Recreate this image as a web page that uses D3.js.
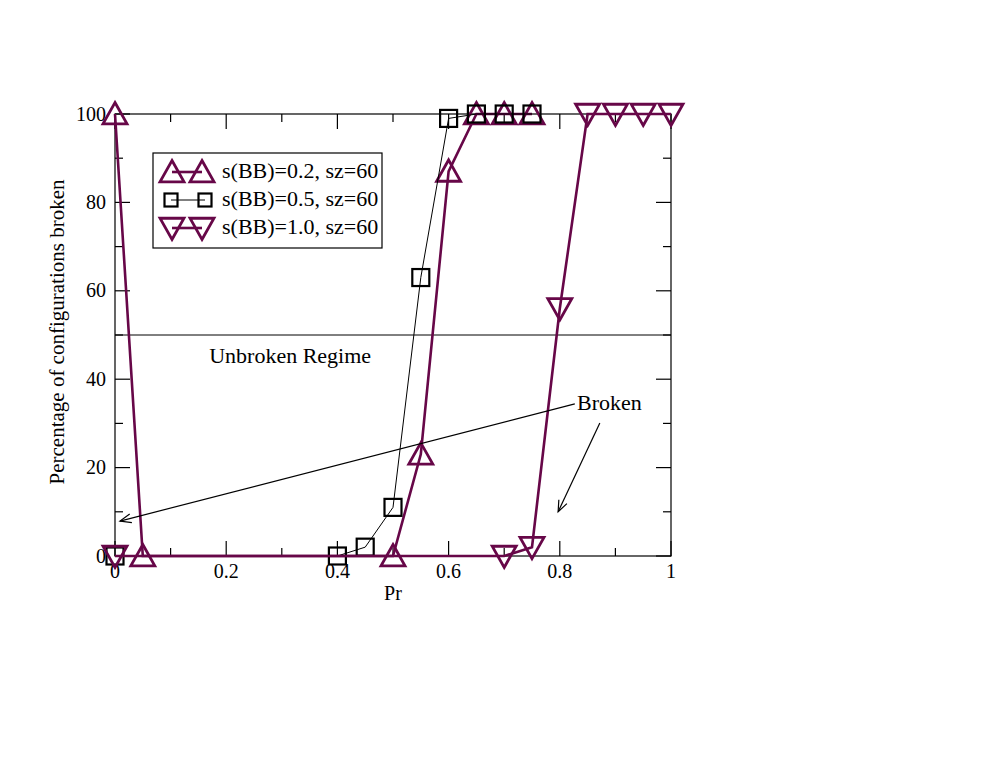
<!DOCTYPE html>
<html><head><meta charset="utf-8">
<script src="https://cdn.jsdelivr.net/npm/d3@7"></script>
<style>body{margin:0;background:#fff}text{font-family:"Liberation Serif","Times New Roman",serif}</style>
</head><body>
<svg id="c" width="987" height="763"></svg>
<script>
const s1x=[0,0.05,0.5,0.55,0.6,0.65,0.7,0.75];
const s1y=[100,0,0,23,87,100,100,100];
const s2x=[0,0.4,0.45,0.5,0.55,0.6,0.65,0.7,0.75];
const s2y=[0,0,2,11,63,99,100,100,100];
const s3x=[0,0.7,0.75,0.8,0.85,0.9,0.95,1.0];
const s3y=[0,0,2,56,100,100,100,100];
const seriesNames=["s(BB)=0.2, sz=60","s(BB)=0.5, sz=60","s(BB)=1.0, sz=60"];
const xTicks=[0,0.2,0.4,0.6,0.8,1];
const yTicks=[0,20,40,60,80,100];
const xLabel="Pr", yLabel="Percentage of configurations broken";

const maroon="rgb(103,7,72)";
const svg=d3.select("#c");
const L=115,R=671,T=114,B=556;
const x=d3.scaleLinear().domain([0,1]).range([L,R]);
const y=d3.scaleLinear().domain([0,100]).range([B,T]);

// frame
svg.append("rect").attr("x",L).attr("y",T).attr("width",R-L).attr("height",B-T)
  .attr("fill","none").attr("stroke","#000").attr("stroke-width",1.2);

// ticks (inward, all sides)
const minX=d3.range(0,1.0001,0.1), minY=d3.range(0,100.001,10);
const tk=svg.append("g").attr("stroke","#000").attr("stroke-width",1.2);
minX.forEach(v=>{const major=Math.abs(v*5-Math.round(v*5))<1e-6;const l=major?15:8;
  tk.append("line").attr("x1",x(v)).attr("x2",x(v)).attr("y1",B).attr("y2",B-l);
  tk.append("line").attr("x1",x(v)).attr("x2",x(v)).attr("y1",T).attr("y2",T+l);});
minY.forEach(v=>{const major=v%20===0;const l=major?15:8;
  tk.append("line").attr("y1",y(v)).attr("y2",y(v)).attr("x1",L).attr("x2",L+l);
  tk.append("line").attr("y1",y(v)).attr("y2",y(v)).attr("x1",R).attr("x2",R-l);});

const tfs=20, fs=22;
svg.append("g").selectAll("text").data(xTicks).join("text")
  .attr("x",d=>x(d)).attr("y",B+22).attr("text-anchor","middle").attr("font-size",tfs)
  .text(d=>d===0?"0":d===1?"1":d3.format(".1f")(d));
svg.append("g").selectAll("text").data(yTicks).join("text")
  .attr("x",L-9).attr("y",d=>y(d)+6.5).attr("text-anchor","end").attr("font-size",tfs)
  .text(d=>d);
svg.append("text").attr("x",393).attr("y",B+44).attr("text-anchor","middle").attr("font-size",tfs).text(xLabel);
svg.append("text").attr("transform",`translate(64,332) rotate(-90)`).attr("text-anchor","middle").attr("font-size",21).text(yLabel);

// horizontal reference line at 50
svg.append("line").attr("x1",x(0)).attr("x2",x(1)).attr("y1",y(50)).attr("y2",y(50)).attr("stroke","#000").attr("stroke-width",1);

// markers
function tri(g,cx,cy,up,col){const h=11.5,w=12;
  const p=up?[[cx,cy-h],[cx+w,cy+h*0.85],[cx-w,cy+h*0.85]]:[[cx,cy+h],[cx+w,cy-h*0.85],[cx-w,cy-h*0.85]];
  g.append("path").attr("d","M"+p.map(a=>a.join(",")).join("L")+"Z").attr("fill","none").attr("stroke",col).attr("stroke-width",2.8).attr("stroke-linejoin","miter");}
function sq(g,cx,cy,a){a=a||8.5;g.append("rect").attr("x",cx-a).attr("y",cy-a).attr("width",2*a).attr("height",2*a).attr("fill","none").attr("stroke","#000").attr("stroke-width",2.2);}

const line=d3.line();
const series=[
  {xs:s1x,ys:s1y,col:maroon,lw:2.6,m:"up"},
  {xs:s2x,ys:s2y,col:"#000",lw:1,m:"sq"},
  {xs:s3x,ys:s3y,col:maroon,lw:2.6,m:"down"}];
series.forEach(s=>{
  const g=svg.append("g");
  const pts=s.xs.map((v,i)=>[x(v),y(s.ys[i])]);
  g.append("path").attr("d",line(pts)).attr("fill","none").attr("stroke",s.col).attr("stroke-width",s.lw);
  pts.forEach(p=>{ if(s.m==="sq") sq(g,p[0],p[1]); else tri(g,p[0],p[1],s.m==="up",s.col);});
});

// annotations
svg.append("text").attr("x",x(0.315)).attr("y",y(43.6)).attr("text-anchor","middle").attr("font-size",fs).text("Unbroken Regime");
svg.append("text").attr("x",x(0.831)).attr("y",y(33.0)).attr("font-size",fs).text("Broken");
function arrow(x1,y1,x2,y2){const X1=x(x1),Y1=y(y1),X2=x(x2),Y2=y(y2);
  svg.append("line").attr("x1",X1).attr("y1",Y1).attr("x2",X2).attr("y2",Y2).attr("stroke","#000").attr("stroke-width",1.2);
  const ang=Math.atan2(Y2-Y1,X2-X1),len=12,sp=0.38;
  const a1=[X2-len*Math.cos(ang-sp),Y2-len*Math.sin(ang-sp)],a2=[X2-len*Math.cos(ang+sp),Y2-len*Math.sin(ang+sp)];
  svg.append("path").attr("d",`M${a1}L${X2},${Y2}L${a2}`).attr("fill","none").attr("stroke","#000").attr("stroke-width",1.2);}
arrow(0.827,34.4,0.009,7.9);
arrow(0.872,30.1,0.797,10);

// legend
const lg=svg.append("g");
lg.append("rect").attr("x",153).attr("y",153).attr("width",229).attr("height",95).attr("fill","#fff").attr("stroke","#000").attr("stroke-width",1.2);
const ly=[172,200,228];
series.forEach((s,i)=>{
  const g=lg.append("g");
  const cxs=s.m==="sq"?[171,205]:[172,202];
  g.append("line").attr("x1",cxs[0]).attr("x2",cxs[1]).attr("y1",ly[i]).attr("y2",ly[i]).attr("stroke",s.col).attr("stroke-width",s.lw);
  cxs.forEach(cx=>{ if(s.m==="sq") sq(g,cx,ly[i],6.5); else tri(g,cx,ly[i],s.m==="up",s.col);});
  g.append("text").attr("x",222).attr("y",ly[i]+6).attr("font-size",fs).text(seriesNames[i]);
});
</script>
</body></html>
